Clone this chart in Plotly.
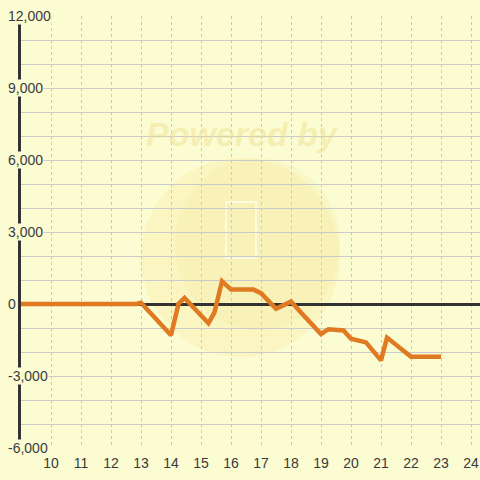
import plotly.graph_objects as go

# data
hours = [9, 12.85, 13, 14, 14.25, 14.45, 15.25, 15.45, 15.7, 16, 16.75, 17,
         17.5, 18, 18.4, 19, 19.25, 19.75, 20, 20.5, 21, 21.2, 22, 23]
balance = [0, 0, 50, -1300, 0, 250, -800, -350, 950, 600, 600, 450,
           -200, 100, -450, -1250, -1050, -1100, -1450, -1600, -2350, -1400, -2200, -2200]

x_ticks = list(range(10, 25))
y_label_vals = [12000, 9000, 6000, 3000, 0, -3000, -6000]
y_label_text = ["12,000", "9,000", "6,000", "3,000", "0", "-3,000", "-6,000"]

BG = "#FCFCD2"
TXT = "#3a3a3a"

# plot area in pixels: left 21, right 480, top 16, bottom 448
W, H = 480, 480
L, R, T, B = 21, 0, 16, 32
pw, ph = W - L - R, H - T - B


def px_x(p):
    return (p - L) / pw


def px_y(p):
    return (H - B - p) / ph


fig = go.Figure()
fig.add_trace(go.Scatter(
    x=hours, y=balance, mode="lines",
    line=dict(color="#E07A22", width=4.5),
    hoverinfo="skip", showlegend=False,
))

# faint watermark: circle, lighter toward the bottom-left
fig.add_shape(type="circle", xref="paper", yref="paper",
              x0=px_x(141), x1=px_x(340), y0=px_y(357), y1=px_y(158),
              fillcolor="rgba(247,230,150,0.28)", line_width=0, layer="below")
fig.add_shape(type="circle", xref="paper", yref="paper",
              x0=px_x(175), x1=px_x(340), y0=px_y(330), y1=px_y(158),
              fillcolor="rgba(240,225,150,0.18)", line_width=0, layer="below")
fig.add_shape(type="rect", xref="paper", yref="paper",
              x0=px_x(226), x1=px_x(256), y0=px_y(258), y1=px_y(202),
              line=dict(color="rgba(255,255,240,0.7)", width=2), layer="below")
fig.add_annotation(text="<b><i>Powered by</i></b>", xref="paper", yref="paper",
                   x=px_x(242), y=px_y(134), xanchor="center", yanchor="middle",
                   showarrow=False,
                   font=dict(size=34, color="rgba(238,222,140,0.45)", family="Liberation Sans"))

# y labels sit on top of the axis line, left aligned
for v, t in zip(y_label_vals, y_label_text):
    fig.add_annotation(text=t, xref="paper", yref="y", x=px_x(7), y=v,
                       xanchor="left", yanchor="middle", showarrow=False,
                       bgcolor=BG, borderpad=0,
                       font=dict(size=14, color=TXT, family="Liberation Sans"))

fig.update_xaxes(
    range=[9, 9 + pw / 30], tickvals=x_ticks,
    showgrid=True, gridcolor="#C8C8C8", gridwidth=1, griddash="3px,3px",
    zeroline=False, showline=False, ticks="outside", ticklen=2, tickcolor="rgba(0,0,0,0)",
    tickfont=dict(size=14, color=TXT, family="Liberation Sans"),
)
fig.update_yaxes(
    range=[-6000, 12000], dtick=1000, showticklabels=False,
    showgrid=True, gridcolor="#CACACA", gridwidth=1.2,
    zeroline=True, zerolinecolor="#333333", zerolinewidth=3,
    showline=True, linecolor="#333333", linewidth=3,
)
fig.update_layout(
    width=W, height=H,
    margin=dict(l=L, r=R, t=T, b=B),
    paper_bgcolor=BG, plot_bgcolor=BG,
    font=dict(family="Liberation Sans"),
)

fig.write_html("out.html", config={"displayModeBar": False},
               post_script="document.body.style.margin='0';")
